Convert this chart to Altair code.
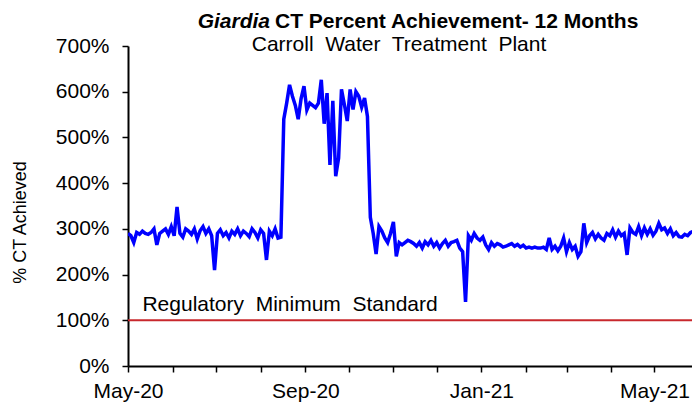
import altair as alt
import pandas as pd

# ---- data ----
start_date = "2020-05-01"
step_days = 2
ct_percent = [
    290, 285, 270, 292, 288, 295, 290, 288, 292, 300, 265, 290, 295, 300, 288, 305, 285, 348, 290, 282,
    300, 295, 288, 300, 278, 296, 305, 290, 300, 285, 210, 290, 298, 285,
    292, 280, 295, 288, 300, 285, 295, 290, 283, 300, 292, 280, 298, 290, 232, 295, 285, 300, 280, 282,
    540, 575, 615, 590, 570, 540, 585, 612, 560, 575, 570,
    565, 575, 626, 530, 597, 440, 580, 415, 455, 605, 572, 536, 605, 561, 600, 590, 566, 586, 546, 325,
    290, 245, 305, 295, 280, 270, 290, 315, 240, 270, 265, 270, 275, 272,
    268, 262, 270, 258, 272, 265, 275, 262, 270, 258, 268, 275, 262, 270, 272, 275, 258, 250, 140, 285,
    275, 290, 280, 275, 282, 265, 255, 270, 262, 268, 265, 260, 262,
    265, 268, 262, 266, 260, 264, 258, 260, 258, 260, 258, 258, 260, 255, 280, 255, 262, 252, 262, 280,
    250, 270, 255, 262, 240, 250, 312, 270, 285, 292, 278, 288,
    280, 275, 290, 285, 298, 282, 295, 285, 290, 243, 302, 292, 288, 305, 285, 302, 288, 300, 286, 295,
    312, 298, 302, 290, 300, 285, 292, 283, 282, 288, 285, 292, 295, 290,
]
dates = pd.date_range(start_date, periods=len(ct_percent), freq=f"{step_days}D").strftime("%Y-%m-%d")

y_ticks = [0, 100, 200, 300, 400, 500, 600, 700]
month_ticks_ym = [(2020, 5), (2020, 6), (2020, 7), (2020, 8), (2020, 9), (2020, 10), (2020, 11),
                  (2020, 12), (2021, 1), (2021, 2), (2021, 3), (2021, 4), (2021, 5)]
x_domain_ymd = [(2020, 5, 1), (2021, 5, 27)]

regulatory_minimum = 100
annotation_text = "Regulatory\u00a0 Minimum\u00a0 Standard"
annotation_date = "2020-05-11"
annotation_level = 120

title_italic = "Giardia"
title_rest = "CT Percent Achievement- 12 Months"
subtitle = "Carroll\u00a0 Water\u00a0 Treatment\u00a0 Plant"
y_title = "% CT Achieved"

FONT = "Liberation Sans"

# ---- tables ----
df = pd.DataFrame({"date": dates, "ct": ct_percent})
df_rule = pd.DataFrame({"ct": [regulatory_minimum]})
df_ann = pd.DataFrame({"date": [annotation_date], "ct": [annotation_level], "label": [annotation_text]})

month_ticks = [alt.DateTime(year=y, month=m, date=1, utc=True) for y, m in month_ticks_ym]
x_scale = alt.Scale(type="utc",
                    domain=[alt.DateTime(year=y, month=m, date=d, utc=True) for y, m, d in x_domain_ymd])
y_scale = alt.Scale(domain=[0, 700], nice=False)

x_enc = alt.X("date:T", scale=x_scale,
              axis=alt.Axis(values=month_ticks, title=None, labelFlush=False, labelOverlap=False,
                            labelExpr="(utcmonth(datum.value) % 4 == 0) ? utcFormat(datum.value, '%b-%y') : ''",
                            labelPadding=8))
y_enc = alt.Y("ct:Q", scale=y_scale,
              axis=alt.Axis(values=y_ticks, title=y_title, labelExpr="datum.value + '%'",
                            labelPadding=13, titlePadding=26, titleY=176))

line = alt.Chart(df).mark_line(color="#0000FF", strokeWidth=3.5, clip=True).encode(x=x_enc, y=y_enc)
rule = alt.Chart(df_rule).mark_rule(color="#C8282D", strokeWidth=2).encode(y=y_enc)
ann = alt.Chart(df_ann).mark_text(align="left", baseline="alphabetic", font=FONT, fontSize=21,
                                  color="black").encode(x=x_enc, y=y_enc, text="label:N")

t1 = alt.Chart(pd.DataFrame({"t": [title_italic]})).mark_text(
    align="right", baseline="alphabetic", font=FONT, fontSize=21, fontWeight="bold",
    fontStyle="italic", color="black").encode(x=alt.value(142), y=alt.value(-18), text="t:N")
t2 = alt.Chart(pd.DataFrame({"t": [title_rest]})).mark_text(
    align="left", baseline="alphabetic", font=FONT, fontSize=21, fontWeight="bold",
    color="black").encode(x=alt.value(147), y=alt.value(-18), text="t:N")
t3 = alt.Chart(pd.DataFrame({"t": [subtitle]})).mark_text(
    align="center", baseline="alphabetic", font=FONT, fontSize=21,
    color="black").encode(x=alt.value(271), y=alt.value(5), text="t:N")

chart = alt.layer(line, rule, ann, t1, t2, t3).properties(
    width=564, height=320,
    autosize=alt.AutoSizeParams(type="none"),
    padding={"left": 120, "top": 38, "right": 0, "bottom": 37},
    background="white",
).configure_view(stroke=None).configure_axis(
    grid=False,
    domainColor="black", domainWidth=2,
    tickColor="black", tickWidth=1.5, tickSize=6,
    labelFont=FONT, labelFontSize=21, labelColor="black",
    titleFont=FONT, titleFontSize=18, titleFontWeight="normal", titleColor="black",
)

chart.save("out.html", embed_options={"renderer": "svg", "actions": False})
